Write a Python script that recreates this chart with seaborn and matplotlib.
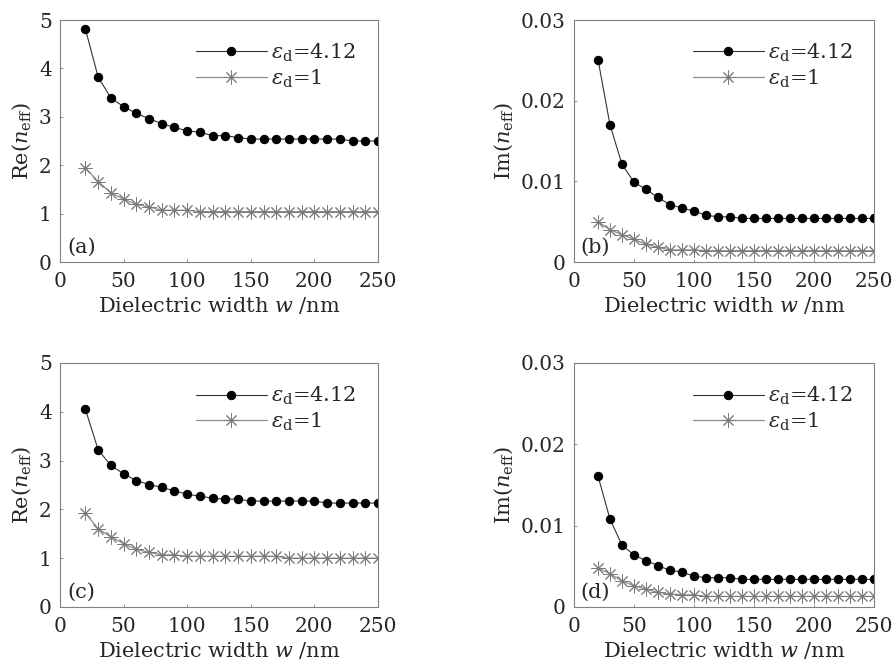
import numpy as np
import pandas as pd
import matplotlib
matplotlib.use("Agg")
import matplotlib.pyplot as plt
import seaborn as sns

# ---------------- data ----------------
width_nm = list(range(20, 260, 10))

re_a_412 = [4.81, 3.82, 3.39, 3.21, 3.07, 2.96, 2.86, 2.78, 2.71, 2.68, 2.61, 2.61,
            2.57, 2.54, 2.54, 2.54, 2.54, 2.54, 2.54, 2.54, 2.54, 2.50, 2.50, 2.50]
re_a_1 = [1.94, 1.66, 1.43, 1.30, 1.19, 1.14, 1.07, 1.07, 1.07] + [1.04] * 15

im_b_412 = [0.0251, 0.0170, 0.0121, 0.0099, 0.0090, 0.0080, 0.0071, 0.0067, 0.0063,
            0.0058, 0.0056, 0.0056] + [0.0054] * 12
im_b_1 = [0.0050, 0.0040, 0.0034, 0.0028, 0.0022, 0.0018, 0.0015, 0.0015, 0.0015] + [0.0014] * 15

re_c_412 = [4.05, 3.22, 2.90, 2.73, 2.59, 2.51, 2.45, 2.38, 2.31, 2.27, 2.23, 2.21,
            2.21, 2.17, 2.17, 2.17, 2.17, 2.17, 2.17, 2.13, 2.13, 2.13, 2.13, 2.13]
re_c_1 = [1.93, 1.60, 1.44, 1.30, 1.18, 1.12, 1.07, 1.07] + [1.04] * 8 + [1.00] * 8

im_d_412 = [0.0161, 0.0108, 0.0076, 0.0064, 0.0057, 0.0051, 0.0045, 0.0043, 0.0038,
            0.0036, 0.0036, 0.0036] + [0.0034] * 12
im_d_1 = [0.0048, 0.0041, 0.0032, 0.0026, 0.0022, 0.0018, 0.0016, 0.0015, 0.0015] + [0.0013] * 15

series_labels = [r"$\varepsilon_{\rm d}$=4.12", r"$\varepsilon_{\rm d}$=1"]
x_ticks = [0, 50, 100, 150, 200, 250]
re_ticks = [0, 1, 2, 3, 4, 5]
im_ticks = [0, 0.01, 0.02, 0.03]
im_ticklabels = ["0", "0.01", "0.02", "0.03"]
panel_tags = ["(a)", "(b)", "(c)", "(d)"]

# ---------------- style ----------------
sns.set_style("ticks")
plt.rcParams["font.family"] = ["DejaVu Serif"]
plt.rcParams["mathtext.fontset"] = "dejavuserif"
plt.rcParams["font.size"] = 14

W, H = 895, 660
fig = plt.figure(figsize=(W / 100, H / 100), dpi=100)

def ax_rect(l, t, r, b):
    return [l / W, 1 - b / H, (r - l) / W, (b - t) / H]

rects = [ax_rect(60, 20, 378, 262), ax_rect(574, 20, 874, 262),
         ax_rect(60, 363, 378, 607), ax_rect(574, 363, 874, 607)]

panels = [(re_a_412, re_a_1, "re"), (im_b_412, im_b_1, "im"),
          (re_c_412, re_c_1, "re"), (im_d_412, im_d_1, "im")]

spine_col = "#808080"
for i, (rect, (s1, s2, kind)) in enumerate(zip(rects, panels)):
    ax = fig.add_axes(rect)
    df = pd.DataFrame({
        "w": width_nm * 2,
        "val": s1 + s2,
        "series": [series_labels[0]] * len(width_nm) + [series_labels[1]] * len(width_nm),
    })
    sns.lineplot(data=df[df.series == series_labels[0]], x="w", y="val", ax=ax,
                 color="#333333", lw=0.8, marker="o", markersize=6,
                 markerfacecolor="black", markeredgecolor="black",
                 label=series_labels[0])
    sns.lineplot(data=df[df.series == series_labels[1]], x="w", y="val", ax=ax,
                 color="#8c8c8c", lw=0.9, marker=(8, 2, 0), markersize=10,
                 markeredgecolor="#7a7a7a", markeredgewidth=0.7,
                 label=series_labels[1])
    ax.set_xlim(0, 250)
    ax.set_xticks(x_ticks)
    if kind == "re":
        ax.set_ylim(0, 5)
        ax.set_yticks(re_ticks)
        ax.set_ylabel(r"Re($n_{\rm eff}$)", fontsize=15, labelpad=4)
    else:
        ax.set_ylim(0, 0.03)
        ax.set_yticks(im_ticks)
        ax.set_yticklabels(im_ticklabels)
        ax.set_ylabel(r"Im($n_{\rm eff}$)", fontsize=15, labelpad=4)
    ax.set_xlabel(r"Dielectric width $w$ /nm", fontsize=15, labelpad=3)
    for sp in ax.spines.values():
        sp.set_color(spine_col)
        sp.set_linewidth(0.8)
    ax.tick_params(axis="x", pad=7)
    ax.tick_params(axis="y", pad=6)
    ax.tick_params(direction="in", length=2, width=0.6, color=spine_col,
                   labelsize=14.5, top=False, right=False)
    ax.text(0.022, 0.02, panel_tags[i], transform=ax.transAxes,
            ha="left", va="bottom", fontsize=15)
    ax.legend(loc="upper right", bbox_to_anchor=(0.93, 0.91), frameon=False,
              fontsize=15, handlelength=3.4, handletextpad=0.2,
              borderpad=0, labelspacing=0.15, borderaxespad=0)

fig.savefig("out.png", dpi=100)
